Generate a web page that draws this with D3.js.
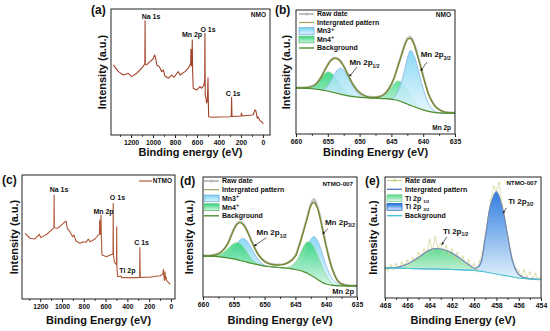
<!DOCTYPE html>
<html>
<head>
<meta charset="utf-8">
<script src="https://cdn.jsdelivr.net/npm/d3@7"></script>
<style>
  body { margin: 0; background: #fff; }
  svg text { font-family: "Liberation Sans", Arial, sans-serif; font-weight: bold; fill: #111; }
</style>
</head>
<body>
<svg id="fig" width="550" height="331"></svg>
<script>
'use strict'

// ---- (a) survey NMO ----
const surveyEnergyA = [1361, 1315, 1270, 1240, 1224, 1194, 1148, 1103, 1080, 1074, 1072, 1070, 1060, 1027, 1000, 985, 978, 966, 942, 921, 906, 891, 861, 830, 809, 770, 755, 709, 679, 664, 657, 655, 652, 647, 643, 640, 634, 603, 573, 557, 536, 530, 528, 525, 518, 512, 505, 500, 497, 494, 467, 400, 300, 288, 285, 282, 200, 195, 190, 100, 88, 73, 65, 60, 52, 45, 27, 10, -3]
const surveyIntensityA = [55.6, 50.3, 47.6, 48.4, 49, 46.3, 49, 53, 55.6, 56.4, 90.7, 56.4, 55.6, 58.2, 60.3, 63.5, 61.9, 55.6, 54.2, 50.3, 51.6, 46.8, 45, 47.6, 45.8, 50.3, 47.6, 50.3, 53, 55.6, 57.2, 68, 54.8, 56.4, 75.4, 51.6, 37.1, 35.7, 38.4, 37.1, 39.7, 43.7, 80.7, 31.8, 29.1, 25.2, 27.8, 45.3, 27.8, 14.5, 14.1, 14.3, 14.5, 15.1, 29.9, 14.7, 15.1, 17.5, 15.1, 15.9, 16.3, 19.8, 19.3, 17.5, 13.3, 14.5, 11.4, 10.3, 8.7]

// ---- (c) survey NTMO ----
const surveyEnergyC = [1339, 1294, 1248, 1208, 1195, 1140, 1080, 1074, 1072, 1070, 1043, 1003, 975, 963, 951, 927, 902, 890, 872, 835, 805, 780, 759, 743, 697, 667, 657, 654, 651, 645, 642, 639, 633, 590, 560, 538, 532, 530, 528, 520, 505, 500, 498, 496, 489, 458, 452, 300, 288, 285, 282, 200, 101, 75, 70, 65, 61, 55, 50, 45, 40, 20, 9]
const surveyIntensityC = [53, 49, 48.4, 52.2, 49.5, 52.2, 57, 57.5, 83.9, 57.5, 57, 59.7, 62, 62.9, 57, 54.3, 50.2, 51.6, 46.8, 44.9, 46.2, 45.7, 48.4, 46.2, 48.4, 51.6, 52.5, 63.7, 53, 52, 67.7, 50, 35.5, 34.1, 35.5, 36, 37, 77.2, 36, 30.1, 28, 29, 58.3, 25, 18, 18.5, 17.2, 17.2, 17.5, 41.4, 17.4, 17.6, 18.8, 20, 24, 19, 15, 22, 16, 18, 15, 13, 11.8]

// ---- Mn 2p energy grid (b, d) ----
const energiesMn = [660, 659, 658, 657, 656, 655.5, 655, 654.5, 654, 653.5, 653, 652.5, 652, 651, 650, 649, 648, 647, 646, 645, 644.5, 644, 643.5, 643, 642.5, 642, 641.5, 641, 640.5, 640, 639, 638, 637, 636, 635]

// (b) NMO Mn 2p
const rawB = [37.5, 37.4, 37.9, 39.8, 46.5, 51.6, 56.2, 59.8, 61.6, 61, 58.9, 54.9, 49.8, 39.9, 33.6, 30.7, 29.8, 30.1, 32.9, 40.4, 46.6, 54.7, 62.8, 70.9, 77, 78.2, 73.9, 65.8, 56.7, 47, 30.4, 21.8, 18.6, 17.5, 17.2]
const fitB = [37.1, 37.2, 37.6, 39.5, 46, 51, 55.6, 59.3, 60.9, 60.5, 58.5, 54.5, 49.5, 39.5, 33.3, 30.4, 29.5, 29.8, 32.5, 40, 46, 54, 62, 70, 76, 77, 73, 65, 56, 46.5, 30, 21.5, 18.3, 17.2, 16.9]
const mn3B = [37.1, 36.9, 36.7, 36.3, 35.8, 36.5, 39, 43, 47.5, 51.5, 53, 51.5, 47.5, 38, 31.5, 29.5, 29, 28.8, 28.5, 28.5, 30, 34, 41, 50, 61, 67.5, 64, 56, 46, 36.5, 23, 18, 17, 16.9, 16.9]
const mn4B = [37.1, 37, 37.5, 40, 45.5, 48.5, 50, 49.3, 47, 44, 40.5, 37, 34, 30.8, 29.7, 29.3, 29.2, 29.5, 32, 37.5, 41, 42.7, 41.8, 39, 35, 31, 27.5, 24.5, 22, 20.2, 18.3, 17.3, 16.9, 16.9, 16.9]
const bgB = [37.1, 36.9, 36.7, 36.3, 35.5, 35.1, 34.7, 34, 33.4, 32.7, 32.1, 31.5, 30.9, 30.1, 29.6, 29.3, 29, 28.8, 28.5, 28, 27.6, 27, 26.2, 25.2, 24.2, 23.1, 22.2, 21.2, 20.3, 19.4, 18.1, 17.3, 16.9, 16.9, 16.9]

// (d) NTMO-007 Mn 2p
const rawD = [34.5, 34.6, 35.4, 37.9, 44.5, 50.6, 56.7, 61.2, 62.8, 61.3, 57.2, 51.6, 45.5, 35.4, 29.9, 27.6, 27, 27.3, 29.4, 34.5, 41.6, 49.8, 59, 68.2, 77.5, 81.5, 76.8, 67.2, 55, 42.8, 23.5, 12.9, 10.1, 9.6, 9.5]
const fitD = [34.2, 34.3, 35, 37.5, 44, 50, 56, 60.5, 62, 60.5, 56.5, 51, 45, 35, 29.5, 27.3, 26.7, 27, 29, 34, 41, 49, 58, 67, 76, 79, 75, 66, 54, 42, 23, 12.5, 9.8, 9.3, 9.2]
const mn3D = [34.2, 34, 33.8, 33.5, 34.5, 36.5, 40, 44, 47.5, 48.8, 47.5, 44, 39.5, 31, 26.5, 25.2, 24.8, 24.3, 23.8, 23.5, 25, 28.5, 34, 41, 48, 50.5, 48, 42, 34, 26, 15, 10.5, 9.3, 9.2, 9.2]
const mn4D = [34.2, 34, 34.3, 36, 40, 42.5, 44.5, 45.3, 44.5, 42, 38.5, 34.5, 31, 27, 25.8, 25.2, 24.8, 24.3, 25, 29, 33, 38.5, 43.5, 46, 45, 41.5, 36, 29.5, 23, 17.5, 11, 9.5, 9.2, 9.2, 9.2]
const bgD = [34.2, 34, 33.8, 33.3, 32.5, 32.1, 31.7, 31.1, 30.4, 29.8, 29.2, 28.5, 27.9, 26.7, 25.8, 25.2, 24.8, 24.3, 23.8, 22.9, 22.3, 21.7, 20.7, 19.6, 18.1, 16.7, 15, 13.3, 11.8, 10.8, 9.7, 9.3, 9.2, 9.2, 9.2]

// ---- (e) NTMO-007 Ti 2p ----
const energiesTi = [468, 467.5, 467, 466.5, 466, 465.5, 465, 464.5, 464, 463.5, 463, 462.5, 462, 461.5, 461, 460.5, 460, 459.5, 459, 458.5, 458, 457.5, 457, 456.5, 456, 455.5, 455, 454.5, 454]
const fitE = [24.8, 25, 25.2, 26.4, 28.1, 30.6, 33.5, 36.8, 39.7, 40.9, 40.5, 39.3, 37.2, 34.3, 31, 27.7, 24.6, 27.5, 50, 78, 88, 76, 52, 29, 19.5, 17, 16, 15.6, 15.3]
const ti1E = [24.8, 25, 25.2, 26.4, 28.1, 30.6, 33.5, 36.8, 39.7, 40.9, 40.5, 39.3, 37.2, 34.3, 31, 27.7, 24.4, 22.8, 21.8, 20.9, 19.9, 19, 18.2, 17.3, 16.5, 16.1, 15.7, 15.5, 15.3]
const ti3E = [24.8, 24.7, 24.6, 24.5, 24.4, 24.3, 24.2, 24.1, 24, 23.9, 23.8, 23.7, 23.6, 23.4, 23.2, 23, 22.9, 26.5, 49.5, 77.5, 87.5, 75.5, 51.5, 28.5, 19, 16.8, 15.9, 15.5, 15.3]
const bgE = [24.8, 24.7, 24.6, 24.5, 24.4, 24.3, 24.2, 24.1, 24, 23.9, 23.8, 23.7, 23.6, 23.4, 23.2, 23, 22.7, 22.2, 21.5, 20.7, 19.8, 19, 18.2, 17.3, 16.5, 16.1, 15.7, 15.5, 15.3]
const energiesTiRaw = [468, 467.75, 467.5, 467.25, 467, 466.75, 466.5, 466.25, 466, 465.75, 465.5, 465.25, 465, 464.75, 464.5, 464.25, 464, 463.75, 463.5, 463.25, 463, 462.75, 462.5, 462.25, 462, 461.75, 461.5, 461.25, 461, 460.75, 460.5, 460.25, 460, 459.75, 459.5, 459.25, 459, 458.75, 458.5, 458.25, 458, 457.75, 457.5, 457.25, 457, 456.75, 456.5, 456.25, 456, 455.75, 455.5, 455.25, 455, 454.75, 454.5, 454.25, 454]
const rawE = [26, 23, 27, 24, 28, 25, 29, 27, 31, 28, 33, 31, 37, 34, 40, 37, 48, 39, 50, 41, 45, 38, 43, 36, 40, 33, 37, 30, 34, 27, 31, 25, 28, 22, 30, 38, 53, 66, 81, 92, 89, 95, 77, 66, 50, 40, 30, 24, 22, 18, 23, 17, 21, 16, 20, 15, 17]

// ---- axis ticks ----
const surveyTicks = [1200, 1000, 800, 600, 400, 200, 0]
const surveyMinor = [1300, 1100, 900, 700, 500, 300, 100]
const mnTicks = [660, 655, 650, 645, 640, 635]
const mnMinor = [657.5, 652.5, 647.5, 642.5, 637.5]
const tiTicks = [468, 466, 464, 462, 460, 458, 456, 454]
const tiMinor = [467, 465, 463, 461, 459, 457, 455]

const svg = d3.select('#fig')
const defs = svg.append('defs')

defs.append('marker')
  .attr('id', 'arrow')
  .attr('viewBox', '0 0 10 10')
  .attr('refX', 9).attr('refY', 5)
  .attr('markerWidth', 4).attr('markerHeight', 4)
  .attr('orient', 'auto')
  .append('path').attr('d', 'M0,0 L10,5 L0,10 z').attr('fill', '#222')

function gradient (id, top, bottom) {
  const gr = defs.append('linearGradient').attr('id', id)
    .attr('x1', 0).attr('y1', 0).attr('x2', 0).attr('y2', 1)
  gr.append('stop').attr('offset', '0%').attr('stop-color', top)
  gr.append('stop').attr('offset', '100%').attr('stop-color', bottom)
}
gradient('gMn3', '#78d2f3', '#e2f6fc')
gradient('gMn4', '#2fd479', '#d6f6e2')
gradient('gTi1', '#52d787', '#e6f8ec')
gradient('gTi3', '#1a6fdc', '#e0f2fb')

function panel (o) {
  const x = d3.scaleLinear().domain(o.xDomain).range([o.left, o.right])
  const y = d3.scaleLinear().domain([0, 100]).range([o.bottom, o.top])
  const g = svg.append('g')
  const clip = 'clip' + o.id
  defs.append('clipPath').attr('id', clip)
    .append('rect').attr('x', o.left).attr('y', o.top)
    .attr('width', o.right - o.left).attr('height', o.bottom - o.top)
  const plot = g.append('g').attr('clip-path', `url(#${clip})`)
  return Object.assign({}, o, {x, y, g, plot})
}

function frame (p) {
  p.g.append('rect')
    .attr('x', p.left).attr('y', p.top)
    .attr('width', p.right - p.left).attr('height', p.bottom - p.top)
    .attr('fill', 'none').attr('stroke', '#222').attr('stroke-width', 1)
}

function axis (p, majors, minors) {
  const ax = p.g.append('g').attr('transform', `translate(0,${p.bottom})`)
    .call(d3.axisBottom(p.x).tickValues(majors).tickSize(3).tickSizeOuter(0)
      .tickPadding(2).tickFormat(d3.format('d')))
  ax.select('.domain').remove()
  ax.attr('font-family', null).attr('font-size', 6.8)
  ax.selectAll('line').attr('stroke', '#222')
  const mi = p.g.append('g').attr('transform', `translate(0,${p.bottom})`)
    .call(d3.axisBottom(p.x).tickValues(minors).tickSize(1.8).tickSizeOuter(0).tickFormat(''))
  mi.select('.domain').remove()
  mi.selectAll('line').attr('stroke', '#222')
}

function titles (p, xTitle, xTitleY, yTitleX, letter, lx, ly) {
  p.g.append('text')
    .attr('x', (p.left + p.right) / 2).attr('y', xTitleY)
    .attr('text-anchor', 'middle').attr('font-size', 11)
    .text(xTitle)
  p.g.append('text')
    .attr('transform', `translate(${yTitleX},${(p.top + p.bottom) / 2}) rotate(-90)`)
    .attr('text-anchor', 'middle').attr('font-size', 11)
    .text('Intensity (a.u.)')
  p.g.append('text').attr('x', lx).attr('y', ly).attr('font-size', 12).text(letter)
}

// text with sub / superscripts: parts = [[text, ''|'sub'|'sup'], ...]
function rich (g, x, y, parts, size, anchor) {
  const t = g.append('text').attr('x', x).attr('y', y)
    .attr('font-size', size).attr('text-anchor', anchor || 'start')
  let shift = 0
  parts.forEach(([s, mode]) => {
    const sp = t.append('tspan').text(s)
    let target = 0
    if (mode === 'sub') { target = size * 0.3; sp.attr('font-size', size * 0.62) }
    if (mode === 'sup') { target = -size * 0.35; sp.attr('font-size', size * 0.8) }
    sp.attr('dy', target - shift)
    shift = target
  })
  return t
}

function curve (p, xs, ys, color, width, interp) {
  const line = d3.line().x(d => p.x(d[0])).y(d => p.y(d[1]))
    .curve(interp || d3.curveCatmullRom)
  p.plot.append('path').datum(d3.zip(xs, ys))
    .attr('d', line).attr('fill', 'none')
    .attr('stroke', color).attr('stroke-width', width)
    .attr('stroke-linejoin', 'round')
}

function component (p, xs, ys, base, fill, stroke, opacity) {
  const area = d3.area().x(d => p.x(d[0]))
    .y0(d => p.y(d[2])).y1(d => p.y(d[1]))
    .curve(d3.curveCatmullRom)
  p.plot.append('path').datum(d3.zip(xs, ys, base))
    .attr('d', area).attr('fill', fill).attr('fill-opacity', opacity)
    .attr('stroke', 'none')
  curve(p, xs, ys, stroke, 0.8)
}

function legend (p, items, x0, y0, step) {
  items.forEach((it, i) => {
    const cy = y0 + i * step
    if (it.kind === 'box') {
      p.g.append('rect').attr('x', x0).attr('y', cy - 3.3)
        .attr('width', 15).attr('height', 6.6)
        .attr('fill', it.fill).attr('stroke', it.stroke).attr('stroke-width', 0.8)
    } else {
      p.g.append('line').attr('x1', x0).attr('x2', x0 + 15)
        .attr('y1', cy).attr('y2', cy)
        .attr('stroke', it.stroke).attr('stroke-width', it.width || 1.2)
      if (it.kind === 'raw') {
        p.g.append('circle').attr('cx', x0 + 7.5).attr('cy', cy).attr('r', 1.4)
          .attr('fill', 'none').attr('stroke', it.stroke).attr('stroke-width', 0.6)
      }
    }
    rich(p.g, x0 + 18, cy + 2.4, it.label, 7)
  })
}

function arrow (p, e1, i1, e2, i2) {
  p.g.append('line')
    .attr('x1', p.x(e1)).attr('y1', p.y(i1))
    .attr('x2', p.x(e2)).attr('y2', p.y(i2))
    .attr('stroke', '#222').attr('stroke-width', 0.7)
    .attr('marker-end', 'url(#arrow)')
}

function peakLabel (p, e, i, txt, size) {
  p.g.append('text').attr('x', p.x(e)).attr('y', p.y(i))
    .attr('text-anchor', 'middle').attr('font-size', size || 7).text(txt)
}

// ================= (a) =================
const pa = panel({id: 'a', left: 111, right: 270, top: 9, bottom: 135, xDomain: [1382, -64]})
curve(pa, surveyEnergyA, surveyIntensityA, '#a3432a', 1.1, d3.curveLinear)
frame(pa)
axis(pa, surveyTicks, surveyMinor)
titles(pa, 'Binding energy (eV)', 156, 106, '(a)', 91, 14)
peakLabel(pa, 1018, 92, 'Na 1s')
peakLabel(pa, 645, 77.8, 'Mn 2p')
peakLabel(pa, 500, 82, 'O 1s')
peakLabel(pa, 272, 31.3, 'C 1s')
pa.g.append('text').attr('x', pa.right - 4).attr('y', pa.top + 8)
  .attr('text-anchor', 'end').attr('font-size', 6.5).text('NMO')

// ================= (b) =================
const pb = panel({id: 'b', left: 296, right: 455, top: 10, bottom: 134, xDomain: [660, 635]})
component(pb, energiesMn, mn4B, bgB, 'url(#gMn4)', '#93d69e', 0.9)
component(pb, energiesMn, mn3B, bgB, 'url(#gMn3)', '#8ab6e6', 0.85)
curve(pb, energiesMn, rawB, '#c4c4c4', 2.2)
curve(pb, energiesMn, fitB, '#738a2c', 1.4)
curve(pb, energiesMn, bgB, '#4f8e2e', 1.2)
frame(pb)
axis(pb, mnTicks, mnMinor)
titles(pb, 'Binding Energy (eV)', 156, 290, '(b)', 275, 14)
legend(pb, [
  {kind: 'raw', stroke: '#b8b8b8', width: 1.8, label: [['Raw date', '']]},
  {kind: 'line', stroke: '#a3a060', label: [['Intergrated pattern', '']]},
  {kind: 'box', fill: 'url(#gMn3)', stroke: '#6fa8de', label: [['Mn3', ''], ['+', 'sup']]},
  {kind: 'box', fill: 'url(#gMn4)', stroke: '#5cc07a', label: [['Mn4', ''], ['+', 'sup']]},
  {kind: 'line', stroke: '#4f8e2e', width: 1.4, label: [['Background', '']]}
], pb.left + 3, pb.top + 4, 8.5)
rich(pb.g, pb.x(651.6), pb.y(55.5), [['Mn 2p', ''], ['1/2', 'sub']], 8)
arrow(pb, 650.4, 54, 651.6, 46.5)
rich(pb.g, pb.x(640.4), pb.y(62), [['Mn 2p', ''], ['3/2', 'sub']], 8)
arrow(pb, 639.4, 58, 640.4, 51)
pb.g.append('text').attr('x', pb.right - 4).attr('y', pb.top + 7)
  .attr('text-anchor', 'end').attr('font-size', 6.5).text('NMO')
pb.g.append('text').attr('x', pb.right - 4).attr('y', pb.bottom - 4)
  .attr('text-anchor', 'end').attr('font-size', 6.5).text('Mn 2p')

// ================= (c) =================
const pc = panel({id: 'c', left: 22, right: 175, top: 175, bottom: 299, xDomain: [1367, -37]})
curve(pc, surveyEnergyC, surveyIntensityC, '#b05838', 1.1, d3.curveLinear)
frame(pc)
axis(pc, surveyTicks, surveyMinor)
titles(pc, 'Binding Energy (eV)', 324, 18, '(c)', 2, 184)
peakLabel(pc, 1027, 86.3, 'Na 1s')
peakLabel(pc, 619, 68.5, 'Mn 2p')
peakLabel(pc, 491, 79.8, 'O 1s')
peakLabel(pc, 270, 43.5, 'C 1s')
peakLabel(pc, 400, 20.6, 'Ti 2p')
pc.g.append('line').attr('x1', pc.right - 36).attr('x2', pc.right - 23)
  .attr('y1', pc.top + 6).attr('y2', pc.top + 6)
  .attr('stroke', '#b05838').attr('stroke-width', 1.2)
pc.g.append('text').attr('x', pc.right - 3).attr('y', pc.top + 8.2)
  .attr('text-anchor', 'end').attr('font-size', 6.5).text('NTMO')

// ================= (d) =================
const pd = panel({id: 'd', left: 203, right: 357, top: 177, bottom: 297, xDomain: [660, 635]})
component(pd, energiesMn, mn3D, bgD, 'url(#gMn3)', '#8ab6e6', 0.85)
component(pd, energiesMn, mn4D, bgD, 'url(#gMn4)', '#93d69e', 0.85)
curve(pd, energiesMn, rawD, '#c4c4c4', 2.2)
curve(pd, energiesMn, fitD, '#738a2c', 1.4)
curve(pd, energiesMn, bgD, '#4f8e2e', 1.2)
frame(pd)
axis(pd, mnTicks, mnMinor)
titles(pd, 'Binding Energy (eV)', 324, 193, '(d)', 180, 185)
legend(pd, [
  {kind: 'raw', stroke: '#b8b8b8', width: 1.8, label: [['Raw date', '']]},
  {kind: 'line', stroke: '#a3a060', label: [['Intergrated pattern', '']]},
  {kind: 'box', fill: 'url(#gMn3)', stroke: '#6fa8de', label: [['Mn3', ''], ['+', 'sup']]},
  {kind: 'box', fill: 'url(#gMn4)', stroke: '#5cc07a', label: [['Mn4', ''], ['+', 'sup']]},
  {kind: 'line', stroke: '#4f8e2e', width: 1.4, label: [['Background', '']]}
], pd.left + 1, pd.top + 4, 8.7)
rich(pd.g, pd.x(651.3), pd.y(51.3), [['Mn 2p', ''], ['1/2', 'sub']], 8)
arrow(pd, 649.7, 49.5, 651.7, 42.5)
rich(pd.g, pd.x(640.2), pd.y(60), [['Mn 2p', ''], ['3/2', 'sub']], 8)
arrow(pd, 639.7, 57, 640.6, 52.5)
pd.g.append('text').attr('x', pd.right - 4).attr('y', pd.top + 9)
  .attr('text-anchor', 'end').attr('font-size', 6.2).text('NTMO-007')
pd.g.append('text').attr('x', pd.right - 3).attr('y', pd.bottom - 3)
  .attr('text-anchor', 'end').attr('font-size', 7.5).text('Mn 2p')

// ================= (e) =================
const pe = panel({id: 'e', left: 385, right: 541, top: 177, bottom: 298, xDomain: [468, 454]})
component(pe, energiesTi, ti1E, bgE, 'url(#gTi1)', '#86c9a0', 0.9)
component(pe, energiesTi, ti3E, bgE, 'url(#gTi3)', '#4a8fd8', 0.9)
curve(pe, energiesTiRaw, rawE, '#d2d28a', 0.6, d3.curveLinear)
pe.plot.selectAll('.rawdot').data(d3.zip(energiesTiRaw, rawE)).join('circle')
  .attr('cx', d => pe.x(d[0])).attr('cy', d => pe.y(d[1])).attr('r', 1)
  .attr('fill', 'none').attr('stroke', '#d0cf86').attr('stroke-width', 0.5)
curve(pe, energiesTi, fitE, '#6f86b8', 1.1)
curve(pe, energiesTi, bgE, '#4cc4d6', 1.1)
frame(pe)
axis(pe, tiTicks, tiMinor)
titles(pe, 'Binding Energy (eV)', 324, 377, '(e)', 365, 185)
legend(pe, [
  {kind: 'raw', stroke: '#c8c87a', width: 1, label: [['Rate daw', '']]},
  {kind: 'line', stroke: '#5b78c6', width: 1.4, label: [['Intergrated pattern', '']]},
  {kind: 'box', fill: 'url(#gTi1)', stroke: '#7fd49a', label: [['Ti 2p ', ''], ['1/2', 'sub']]},
  {kind: 'box', fill: 'url(#gTi3)', stroke: '#1f5fc0', label: [['Ti 2p ', ''], ['3/2', 'sub']]},
  {kind: 'line', stroke: '#4cc4d6', width: 1.4, label: [['Background', '']]}
], pe.left + 2, pe.top + 3.5, 8.8)
rich(pe.g, pe.x(462.8), pe.y(52.9), [['Ti 2p', ''], ['1/2', 'sub']], 8)
arrow(pe, 462.45, 50.5, 462.9, 44)
rich(pe.g, pe.x(456.95), pe.y(77.7), [['Ti 2p', ''], ['3/2', 'sub']], 8)
arrow(pe, 457.1, 74.5, 457.4, 70)
pe.g.append('text').attr('x', pe.right - 4).attr('y', pe.top + 8)
  .attr('text-anchor', 'end').attr('font-size', 6.2).text('NTMO-007')
</script>
</body>
</html>
